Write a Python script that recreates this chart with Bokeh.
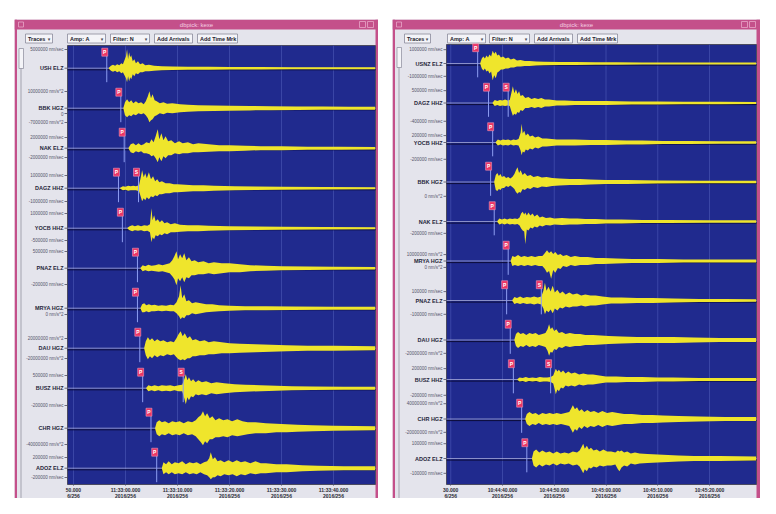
from bokeh.plotting import figure
from bokeh.layouts import row, column
from bokeh.models import Range1d, FixedTicker, Spacer
from bokeh.core.properties import value
from bokeh.embed import file_html
from bokeh.resources import INLINE

# ------------------------------------------------------------------ data
WINDOW_TITLE = "dbpick: kexe"
BUTTON_TEXT = ["Traces", "Amp: A", "Filter: N", "Add Arrivals", "Add Time Mrk"]
BUTTON_MENU = [True, True, True, False, False]

# ---- left window (time in s relative to 11:33:00; envelope points (t, up, down) in px)
L_TICKS = [-10, 0, 10, 20, 30, 40]
L_TICK_LABELS = ["50.000\n6/256", "11:33:00.000\n2016/256", "11:33:10.000\n2016/256",
                 "11:33:20.000\n2016/256", "11:33:30.000\n2016/256", "11:33:40.000\n2016/256"]
L_STATIONS = ["USH ELZ", "BBK HGZ", "NAK ELZ", "DAGZ HHZ", "YOCB HHZ", "PNAZ ELZ",
              "MRYA HGZ", "DAU HGZ", "BUSZ HHZ", "CHR HGZ", "ADOZ ELZ"]
L_P_TIME = [-3.6, -0.9, -0.25, -1.35, -0.6, 2.3, 2.3, 2.75, 3.3, 4.9, 6.0]
L_S_TRACE = [3, 8]
L_S_TIME = [2.5, 11.1]
L_ENV = [
    [(-3.2, .5, .5), (-2.8, 2.5, 2.5), (-2.4, 3.5, 3.5), (-2.0, 2.5, 2.5), (-1.6, 4, 4),
     (-1.2, 3, 3), (-0.8, 5, 5), (-0.5, 4, 4), (-0.2, 8, 7), (0.1, 12, 10), (0.3, 19, 14),
     (0.5, 9, 8), (0.7, 16, 13), (0.9, 11, 9), (1.1, 13, 11), (1.4, 7, 6), (1.7, 9, 8),
     (2.0, 5, 5), (2.4, 7, 6), (2.8, 4, 4), (3.3, 5, 4), (3.8, 3, 3), (4.5, 3.5, 3),
     (5.5, 2.5, 2.5), (7, 2, 2), (9, 1.8, 1.8), (12, 1.5, 1.5), (16, 1.5, 1.5),
     (20, 1.2, 1.2), (26, 1.2, 1.2), (32, 1, 1), (40, 1, 1), (48, 1, 1)],
    [(-0.4, .5, .5), (-0.1, 6, 7), (0.3, 9, 9), (0.7, 6, 7), (1.1, 8, 8), (1.5, 5, 6),
     (2.0, 7, 7), (2.5, 5, 5), (3.0, 6, 6), (3.5, 4, 5), (3.9, 7, 7), (4.3, 12, 10),
     (4.6, 17, 14), (4.9, 10, 12), (5.2, 14, 11), (5.6, 8, 8), (6.0, 7, 7), (6.6, 5, 5),
     (7.3, 6, 6), (8, 4.5, 4.5), (9, 5, 5), (10.5, 4, 4), (12, 3.5, 3.5), (14, 3, 3),
     (17, 2.8, 2.8), (20, 2.5, 2.5), (24, 2.2, 2.2), (28, 2, 2), (33, 1.8, 1.8),
     (38, 1.6, 1.6), (43, 1.5, 1.5), (48, 1.5, 1.5)],
    [(0.6, .5, .5), (1.0, 4, 4), (1.5, 5, 5), (2.0, 3, 3), (2.5, 5, 4), (3.0, 3, 3),
     (3.5, 4, 5), (4.0, 6, 5), (4.6, 5, 6), (5.0, 9, 8), (5.4, 6, 7), (5.8, 12, 10),
     (6.2, 19, 14), (6.5, 9, 9), (6.9, 15, 13), (7.3, 8, 8), (7.7, 12, 10), (8.2, 7, 7),
     (8.8, 8, 7), (9.5, 5, 5), (10.3, 7, 6), (11, 5, 5), (12, 6, 5), (13, 4, 4), (14, 5, 4),
     (16, 4, 3.5), (18, 3, 3), (20, 3, 3), (23, 2.5, 2.5), (26, 2, 2), (30, 2, 2),
     (35, 1.5, 1.5), (41, 1.5, 1.5), (48, 1.2, 1.2)],
    [(-1.0, .5, .5), (-0.5, 2, 2), (0, 1.5, 1.5), (0.5, 2.5, 2.5), (1.0, 2, 2), (1.5, 2.5, 2),
     (2.0, 2, 2), (2.6, 3, 3), (2.9, 10, 8), (3.2, 18, 13), (3.5, 11, 10), (3.8, 15, 12),
     (4.1, 10, 9), (4.5, 16, 11), (4.9, 9, 8), (5.3, 12, 9), (5.7, 7, 7), (6.1, 9, 8),
     (6.5, 6, 6), (7.0, 7, 6), (7.7, 5, 5), (8.5, 5, 5), (9.3, 4, 4), (10, 4, 4),
     (11.5, 3.5, 3.5), (13, 3, 3), (15, 3, 3), (17, 2.5, 2.5), (21, 2, 2), (25, 1.8, 1.8),
     (30, 1.5, 1.5), (38, 1.2, 1.2), (48, 1, 1)],
    [(0.4, .5, .5), (0.8, 2, 2), (1.3, 3, 3), (1.8, 2, 2), (2.4, 3, 2.5), (3.0, 2, 2),
     (3.6, 3, 3), (4.2, 2.5, 2.5), (4.7, 4, 4), (5.0, 20, 14), (5.2, 8, 9), (5.5, 13, 11),
     (5.8, 7, 7), (6.2, 9, 8), (6.6, 6, 6), (7.0, 8, 7), (7.5, 5, 5), (8.0, 6, 6),
     (8.7, 4, 4), (9.5, 5, 4), (10.5, 3.5, 3.5), (12, 3, 3), (14, 3, 3), (16, 2.5, 2.5),
     (20, 2, 2), (25, 1.8, 1.8), (30, 1.5, 1.5), (38, 1.2, 1.2), (48, 1, 1)],
    [(2.9, .5, .5), (3.3, 3, 3), (3.8, 2, 2), (4.4, 3.5, 3), (5.0, 2.5, 2.5), (5.7, 3, 3),
     (6.4, 4, 3.5), (7.1, 3, 3), (7.8, 4, 4), (8.5, 5, 5), (9.0, 8, 8), (9.4, 12, 11),
     (9.8, 17, 17), (10.1, 9, 10), (10.5, 14, 13), (10.9, 10, 9), (11.3, 15, 14),
     (11.7, 8, 9), (12.2, 11, 10), (12.7, 7, 7), (13.3, 8, 7), (14, 6, 6), (15, 7, 6),
     (16, 5, 5), (17, 6, 6), (18.5, 5, 5), (20, 5, 4), (22, 4, 4), (24, 3, 3),
     (27, 2.5, 2.5), (30, 2, 2), (35, 1.8, 1.8), (40, 1.5, 1.5), (48, 1.2, 1.2)],
    [(2.9, .5, .5), (3.2, 4, 4), (3.6, 5, 4), (4.0, 3, 3), (4.5, 4, 4), (5.0, 3, 3),
     (5.6, 3.5, 3), (6.3, 2.5, 2.5), (7.0, 3, 3), (7.8, 2.5, 2.5), (8.6, 3.5, 3), (9.3, 3, 3),
     (9.8, 6, 5), (10.3, 12, 8), (10.6, 23, 11), (10.9, 10, 9), (11.3, 14, 10), (11.7, 7, 7),
     (12.2, 8, 7), (12.8, 5, 5), (13.5, 6, 6), (14.5, 5, 5), (15.5, 4, 4), (16.7, 4, 3.5),
     (18, 3, 3), (20, 2.5, 2.5), (23, 2, 2), (27, 2, 2), (32, 1.8, 1.8), (40, 1.5, 1.5),
     (48, 1.5, 1.5)],
    [(3.6, .5, .5), (3.9, 7, 7), (4.3, 11, 11), (4.7, 8, 8), (5.1, 10, 10), (5.6, 7, 7),
     (6.1, 9, 9), (6.7, 7, 7), (7.3, 8, 8), (8.0, 6, 6), (8.7, 7, 7), (9.3, 6, 6),
     (9.8, 10, 9), (10.2, 14, 11), (10.6, 17, 12), (11.0, 12, 11), (11.4, 15, 12),
     (11.9, 10, 10), (12.4, 12, 10), (12.9, 8, 8), (13.5, 9, 8), (14.3, 7, 7), (15.2, 8, 7),
     (16, 6, 6), (17, 7, 6), (18.5, 6, 5), (20, 5, 5), (22, 4.5, 4.5), (25, 4, 4),
     (28, 3.5, 3.5), (31, 3, 3), (35, 2.5, 2.5), (40, 2.5, 2.5), (48, 2, 2)],
    [(4.0, .5, .5), (4.4, 3, 3), (5.0, 2, 2), (5.6, 3, 3), (6.3, 2, 2), (7.0, 3, 3),
     (7.8, 2.5, 2.5), (8.6, 3, 3), (9.4, 2, 2), (10.2, 3, 3), (10.9, 3.5, 3), (11.3, 9, 10),
     (11.6, 14, 16), (11.9, 8, 9), (12.2, 11, 12), (12.6, 7, 8), (13.0, 9, 9), (13.5, 6, 6),
     (14.0, 8, 7), (14.7, 6, 6), (15.5, 7, 7), (16.5, 5, 5), (17.5, 6, 6), (19, 5, 5),
     (21, 4, 4), (23, 3.5, 3.5), (26, 3, 3), (29, 2.5, 2.5), (32, 2, 2), (36, 1.8, 1.8),
     (42, 1.5, 1.5), (48, 1.5, 1.5)],
    [(5.7, .5, .5), (6.0, 6, 6), (6.5, 8, 8), (7.0, 6, 6), (7.6, 7, 7), (8.3, 5, 5),
     (9.0, 7, 7), (9.7, 6, 6), (10.4, 7, 7), (11.2, 5, 5), (12.0, 7, 7), (12.8, 6, 6),
     (13.5, 8, 8), (14.0, 11, 11), (14.5, 13, 14), (14.9, 17, 17), (15.3, 12, 13),
     (15.7, 15, 15), (16.2, 10, 11), (16.7, 12, 11), (17.3, 8, 9), (18, 10, 9), (18.8, 8, 8),
     (19.6, 9, 9), (20.5, 7, 7), (21.5, 9, 8), (22.5, 7, 7), (23.5, 6, 6), (25, 6, 5),
     (27, 5, 5), (29, 4.5, 4), (31, 4, 4), (33, 3.5, 3.5), (36, 3, 3), (40, 2.5, 2.5),
     (48, 2, 2)],
    [(7.0, .5, .5), (7.3, 6, 6), (7.8, 4, 4), (8.3, 7, 6), (8.9, 4, 4), (9.5, 6, 6),
     (10.2, 5, 5), (10.9, 7, 6), (11.6, 4, 4), (12.3, 6, 6), (13.0, 5, 5), (13.7, 6, 6),
     (14.4, 4, 4), (15.1, 6, 6), (15.7, 7, 7), (16.1, 10, 9), (16.4, 16, 11), (16.8, 9, 9),
     (17.2, 11, 9), (17.7, 7, 7), (18.3, 8, 8), (19, 6, 6), (19.8, 8, 7), (20.6, 6, 6),
     (21.4, 8, 8), (22.2, 6, 6), (23, 7, 7), (24, 5, 5), (25, 7, 6), (26, 5, 5), (27, 5, 5),
     (29, 4, 4), (31, 4, 4), (34, 3, 3), (37, 2.5, 2.5), (42, 2, 2), (48, 2, 2)],
]
L_AMP_TEXT = ["5000000 nm/sec", "10000000 nm/s^2", "0", "-7000000 nm/s^2",
              "2000000 nm/sec", "-2000000 nm/sec", "1000000 nm/sec", "-1000000 nm/sec",
              "1000000 nm/sec", "-500000 nm/sec", "500000 nm/sec", "-200000 nm/sec",
              "0 nm/s^2", "20000000 nm/s^2", "-20000000 nm/s^2", "500000 nm/sec",
              "-200000 nm/sec", "-40000000 nm/s^2", "200000 nm/sec", "-200000 nm/sec"]
L_AMP_TRACE = [0, 1, 1, 1, 2, 2, 3, 3, 4, 4, 5, 5, 6, 7, 7, 8, 8, 9, 10, 10]
L_AMP_DY = [18.7, 16.7, -5.3, -14.3, 10.7, -9.3, 12.7, -13.3, 14.7, -12.3, 16.7, -16.3,
            -6.3, 9.7, -10.3, 12.7, -17.3, -16.3, 10.7, -9.3]

# ---- right window (time in s relative to 10:44:40)
R_TICKS = [-10, 0, 10, 20, 30, 40]
R_TICK_LABELS = ["30.000\n6/256", "10:44:40.000\n2016/256", "10:44:50.000\n2016/256",
                 "10:45:00.000\n2016/256", "10:45:10.000\n2016/256", "10:45:20.000\n2016/256"]
R_STATIONS = ["USNZ ELZ", "DAGZ HHZ", "YOCB HHZ", "BBK HGZ", "NAK ELZ", "MRYA HGZ",
              "PNAZ ELZ", "DAU HGZ", "BUSZ HHZ", "CHR HGZ", "ADOZ ELZ"]
R_P_TIME = [-4.8, -2.7, -1.9, -2.3, -1.6, 1.1, 0.8, 1.5, 2.1, 3.7, 4.7]
R_S_TRACE = [1, 6, 8]
R_S_TIME = [1.1, 7.5, 9.3]
R_ENV = [
    [(-4.3, .5, .5), (-4.0, 5, 5), (-3.7, 7, 7), (-3.4, 5, 5), (-3.1, 8, 8), (-2.8, 6, 7),
     (-2.5, 9, 10), (-2.2, 7, 8), (-1.9, 13, 17), (-1.6, 10, 12), (-1.3, 12, 15), (-1.0, 8, 9),
     (-0.7, 9, 8), (-0.3, 6, 6), (0.1, 7, 6), (0.6, 5, 5), (1.1, 6, 5), (1.6, 4, 4),
     (2.2, 5, 4), (2.8, 3, 3), (3.5, 3.5, 3), (4.3, 2.5, 2.5), (5.2, 2.5, 2.5), (6.5, 2, 2),
     (8, 1.8, 1.8), (11, 1.5, 1.5), (14, 1.5, 1.5), (18, 1.3, 1.3), (22, 1.2, 1.2),
     (27, 1.1, 1.1), (32, 1, 1), (40, 1, 1), (49, 1, 1)],
    [(-1.9, .5, .5), (-1.5, 3, 3), (-1.0, 2, 2), (-0.5, 3, 3), (0, 2.5, 2.5), (0.5, 3.5, 3),
     (1.0, 2.5, 2.5), (1.4, 3, 3), (1.7, 10, 8), (2.0, 17, 13), (2.3, 10, 11), (2.6, 14, 12),
     (2.9, 9, 9), (3.2, 12, 10), (3.5, 7, 7), (3.9, 8, 8), (4.4, 5, 5), (5.0, 6, 5),
     (5.6, 4, 4), (6.2, 5, 5), (6.9, 4, 4), (7.5, 5, 5), (8.2, 3.5, 3.5), (9, 3.5, 3.5),
     (10.5, 2.5, 2.5), (12, 2.5, 2.5), (14, 2, 2), (17, 2, 2), (20, 2, 2), (25, 1.5, 1.5),
     (30, 1.5, 1.5), (35, 1.2, 1.2), (42, 1.2, 1.2), (49, 1, 1)],
    [(-1.3, .5, .5), (-0.9, 3, 3), (-0.4, 2, 2), (0.1, 3, 3), (0.6, 2.5, 2.5), (1.1, 3, 3),
     (1.6, 2, 2), (2.1, 3, 3), (2.6, 2.5, 2.5), (3.1, 3.5, 3), (3.5, 10, 8), (3.7, 19, 13),
     (3.9, 9, 9), (4.2, 12, 10), (4.5, 7, 7), (4.9, 9, 8), (5.3, 6, 6), (5.8, 7, 7),
     (6.3, 5, 5), (6.9, 6, 6), (7.7, 4, 4), (8.5, 4, 4), (9.5, 3.5, 3.5), (10.5, 3, 3),
     (12, 3, 3), (14, 3, 3), (17, 2.5, 2.5), (20, 2.5, 2.5), (24, 2, 2), (27, 2, 2),
     (31, 1.5, 1.5), (36, 1.5, 1.5), (42, 1.2, 1.2), (49, 1.2, 1.2)],
    [(-1.6, .5, .5), (-1.3, 7, 8), (-1.0, 9, 9), (-0.7, 6, 7), (-0.4, 8, 8), (-0.1, 5, 6),
     (0.3, 6, 6), (0.7, 4, 4), (1.1, 5, 5), (1.5, 3.5, 3.5), (1.9, 5, 5), (2.3, 8, 7),
     (2.6, 12, 10), (2.9, 15, 12), (3.2, 9, 10), (3.5, 12, 11), (3.9, 7, 7), (4.3, 9, 8),
     (4.8, 6, 6), (5.4, 7, 7), (6.0, 5, 5), (6.8, 6, 6), (7.6, 4.5, 4.5), (8.5, 5, 5),
     (9.6, 4, 4), (11, 3.5, 3.5), (13, 3, 3), (15, 3, 3), (17, 2.5, 2.5), (20, 2, 2),
     (24, 2, 2), (30, 1.5, 1.5), (38, 1.2, 1.2), (49, 1.2, 1.2)],
    [(-1.0, .5, .5), (-0.6, 3, 3), (-0.1, 2, 2), (0.4, 3, 3), (0.9, 2, 2), (1.4, 3, 3),
     (1.9, 2.5, 2.5), (2.4, 3, 3), (2.9, 2.5, 2.5), (3.3, 4, 4), (3.6, 8, 7), (3.9, 10, 9),
     (4.2, 7, 10), (4.4, 9, 23), (4.7, 6, 8), (5.0, 9, 9), (5.4, 6, 6), (5.8, 8, 7),
     (6.2, 5, 5), (6.7, 7, 6), (7.2, 4, 4), (7.7, 5, 5), (8.4, 3.5, 3.5), (9.2, 4, 4),
     (10, 3, 3), (11.5, 3.5, 3.5), (13, 3, 3), (14.5, 3, 3), (16, 2.5, 2.5), (18, 2.5, 2.5),
     (20, 2, 2), (23, 2, 2), (27, 1.5, 1.5), (32, 1.5, 1.5), (40, 1.2, 1.2), (49, 1.2, 1.2)],
    [(1.6, .5, .5), (1.9, 5, 5), (2.4, 4, 4), (3.0, 6, 5), (3.6, 4, 4), (4.2, 5, 5),
     (4.9, 4, 4), (5.6, 5, 5), (6.3, 4, 4), (7.0, 5, 5), (7.7, 5, 5), (8.2, 8, 8),
     (8.6, 11, 12), (9.0, 8, 10), (9.4, 10, 18), (9.8, 7, 9), (10.2, 9, 12), (10.7, 6, 7),
     (11.2, 7, 8), (11.7, 5, 5), (12.4, 6, 6), (13.2, 4, 4), (14, 5, 5), (15, 4, 4),
     (16.5, 4, 4), (18, 3, 3), (19.5, 3, 3), (22, 2.5, 2.5), (25, 2, 2), (30, 2, 2),
     (35, 1.5, 1.5), (42, 1.5, 1.5), (49, 1.5, 1.5)],
    [(1.9, .5, .5), (2.3, 3.5, 3.5), (2.8, 2.5, 2.5), (3.4, 4, 3.5), (4.0, 2.5, 2.5),
     (4.7, 3.5, 3.5), (5.4, 3, 3), (6.1, 4, 4), (6.8, 3, 3), (7.5, 4, 4), (7.9, 10, 8),
     (8.2, 18, 14), (8.5, 10, 10), (8.9, 14, 12), (9.3, 9, 9), (9.7, 15, 13), (10.1, 8, 8),
     (10.6, 11, 10), (11.1, 7, 7), (11.6, 9, 8), (12.2, 6, 6), (12.9, 8, 7), (13.6, 6, 6),
     (14.4, 7, 6), (15.2, 5, 5), (16, 6, 6), (17, 5, 5), (18, 5, 5), (19.3, 4, 4), (21, 3, 3),
     (23, 3, 3), (26, 2.5, 2.5), (29, 2.5, 2.5), (33, 2, 2), (38, 1.5, 1.5), (43, 1.5, 1.5),
     (49, 1.2, 1.2)],
    [(2.3, .5, .5), (2.6, 6, 6), (3.0, 8, 8), (3.5, 6, 6), (4.0, 7, 7), (4.6, 5, 5),
     (5.2, 7, 7), (5.8, 6, 6), (6.4, 7, 7), (7.0, 5, 5), (7.7, 6, 6), (8.3, 7, 7),
     (8.7, 11, 11), (9.0, 16, 16), (9.3, 11, 12), (9.6, 13, 13), (10.0, 9, 9), (10.4, 11, 10),
     (10.9, 7, 7), (11.5, 8, 8), (12.2, 6, 6), (13, 7, 7), (14, 6, 6), (15, 6, 6), (16, 5, 5),
     (17.5, 5, 5), (19, 4.5, 4.5), (20.5, 4, 4), (23, 3.5, 3.5), (26, 3, 3), (29, 3, 3),
     (33, 3, 3), (37, 2.5, 2.5), (42, 2, 2), (49, 2, 2)],
    [(2.9, .5, .5), (3.3, 2, 2), (3.9, 1.5, 1.5), (4.5, 2.5, 2.5), (5.1, 1.5, 1.5), (5.8, 2, 2),
     (6.5, 1.5, 1.5), (7.2, 2.5, 2.5), (7.9, 2, 2), (8.6, 2, 2), (9.3, 2.5, 2.5), (9.8, 4, 4),
     (10.1, 8, 10), (10.3, 11, 15), (10.6, 8, 10), (10.9, 10, 12), (11.3, 7, 8), (11.7, 9, 9),
     (12.2, 6, 6), (12.7, 8, 7), (13.3, 6, 6), (14, 7, 7), (14.8, 5, 5), (15.6, 6, 6),
     (16.5, 5, 5), (17.5, 5, 5), (18.7, 4, 4), (20, 3, 3), (22, 3, 3), (24, 2.5, 2.5),
     (27, 2.5, 2.5), (30, 2, 2), (33, 2, 2), (38, 1.5, 1.5), (43, 1.5, 1.5), (49, 1.5, 1.5)],
    [(4.4, .5, .5), (4.7, 5, 5), (5.2, 7, 7), (5.8, 5, 5), (6.4, 6, 6), (7.0, 4, 4),
     (7.7, 6, 6), (8.4, 5, 5), (9.1, 6, 6), (9.8, 5, 5), (10.5, 6, 6), (11.3, 5, 5),
     (12.1, 6, 6), (12.9, 7, 7), (13.3, 11, 11), (13.6, 14, 14), (14.0, 10, 10),
     (14.4, 12, 12), (14.8, 8, 8), (15.3, 10, 10), (15.8, 7, 7), (16.4, 9, 9), (17, 7, 7),
     (17.7, 8, 8), (18.5, 6, 6), (19.3, 8, 8), (20.2, 6, 6), (21.2, 7, 7), (22.3, 6, 6),
     (23.5, 5, 5), (25, 5, 5), (27, 4, 4), (29, 4, 4), (31, 3.5, 3.5), (34, 3, 3),
     (38, 2.5, 2.5), (43, 2, 2), (49, 2, 2)],
    [(5.7, .5, .5), (6.0, 7, 7), (6.5, 9, 9), (7.1, 6, 6), (7.7, 8, 8), (8.4, 6, 6),
     (9.1, 7, 7), (9.8, 5, 5), (10.5, 7, 7), (11.2, 5, 5), (12, 6, 6), (12.8, 5, 5),
     (13.6, 7, 7), (14.4, 6, 6), (14.9, 8, 8), (15.3, 12, 12), (15.6, 15, 15), (15.9, 10, 11),
     (16.3, 13, 13), (16.7, 9, 9), (17.1, 11, 10), (17.6, 8, 8), (18.2, 9, 9), (18.8, 7, 7),
     (19.5, 9, 8), (20.2, 7, 7), (21, 7, 7), (21.8, 6, 6), (22.3, 8, 11), (22.6, 7, 13),
     (23.0, 8, 9), (23.5, 6, 7), (24.1, 7, 8), (24.8, 5, 5), (25.6, 6, 6), (26.5, 5, 5),
     (28, 4.5, 4.5), (30, 4, 4), (32, 3.5, 3.5), (34, 3, 3), (37, 2.5, 2.5), (42, 2.5, 2.5),
     (49, 2, 2)],
]
R_AMP_TEXT = ["1000000 nm/sec", "-1000000 nm/sec", "500000 nm/sec", "-400000 nm/sec",
              "200000 nm/sec", "-200000 nm/sec", "0 nm/s^2", "-200000 nm/sec",
              "10000000 nm/s^2", "0 nm/s^2", "100000 nm/sec", "-100000 nm/sec",
              "-20000000 nm/s^2", "200000 nm/sec", "-200000 nm/sec", "40000000 nm/s^2",
              "-20000000 nm/s^2", "100000 nm/sec", "-100000 nm/sec"]
R_AMP_TRACE = [0, 0, 1, 1, 2, 2, 3, 4, 5, 5, 6, 6, 7, 8, 8, 9, 9, 10, 10]
R_AMP_DY = [14, -13, 12.5, -18.5, 7, -17, -14.5, -12, 6.5, -6.5, 9, -14, -13.5, 11, -16,
            15.5, -13.5, 15, -15]

# ------------------------------------------------------------------ styling / geometry
FONT = "Liberation Sans"
BLUE = "#202a8e"
YELLOW = "#efe52c"
PANEL = "#e4e4ec"
PINK = "#c4508a"
FLAG = "#ec3566"
EDGE = "#4a4a60"

# canvas / blue plot area in page pixels, time & trace scale
GEO_L = dict(canvas=(22, 27, 364, 479), area=(75, 53, 383, 492), t0px=133.0, pps=5.2,
             b0px=75.7, upx=1.0, spacing=40,
             buttons=[(33, 60), (75, 113), (118, 157), (162, 200), (205, 245)])
GEO_R = dict(canvas=(400, 27, 368, 479), area=(454, 52, 764, 492), t0px=510.0, pps=5.175,
             b0px=71.0, upx=0.9875, spacing=40,
             buttons=[(412, 438), (455, 493), (497, 537), (542, 580), (585, 625)])


def make_window(g, ticks, tick_labels, stations, p_time, s_trace, s_time, env,
                amp_text, amp_trace, amp_dy):
    cx, cy, cw, ch = g["canvas"]
    ax0, ay0, ax1, ay1 = g["area"]
    pps, upx = g["pps"], g["upx"]

    def X(px):
        return (px - g["t0px"]) / pps

    def Y(py):
        return (g["b0px"] - py) / upx

    sp = g["spacing"]
    base = [-sp * i for i in range(len(stations))]

    # the frame covers the whole window; the time axis is pinned under the trace area
    p = figure(width=cw, height=ch, x_range=Range1d(X(cx), X(cx + cw)),
               y_range=Range1d(Y(cy + ch), Y(cy)), output_backend="svg",
               toolbar_location=None, title=None, y_axis_location=None,
               min_border_left=0, min_border_right=0, min_border_top=0,
               min_border_bottom=0,
               background_fill_color=PANEL, border_fill_color=PANEL,
               outline_line_color=None)
    p.xgrid.visible = False
    p.ygrid.visible = False

    def quad(l, r, t, b, fill, line=None, lw=1.0):
        p.quad(left=[X(l)], right=[X(r)], top=[Y(t)], bottom=[Y(b)],
               fill_color=fill, fill_alpha=1.0 if fill else 0.0,
               line_color=line, line_width=lw)

    def label(px, py, txt, size, color, align="left", style="normal", font=FONT):
        p.text(x=[X(px)], y=[Y(py)], text=[txt], text_align=align, text_baseline="middle",
               text_font=value(font), text_font_size=size, text_font_style=style,
               text_color=color)

    # ---- window chrome
    quad(cx, cx + cw, cy, cy + 10, PINK)
    quad(cx, cx + 2.5, cy, cy + ch, PINK)
    quad(ax1, cx + cw, cy, cy + ch, PINK)
    quad(cx + 4, cx + 9, cy + 2.5, cy + 7.5, None, "#e9a6c8", 0.8)
    quad(cx + cw - 19, cx + cw - 13, cy + 2, cy + 8, None, "#e9a6c8", 0.8)
    quad(cx + cw - 11, cx + cw - 5, cy + 2, cy + 8, None, "#e9a6c8", 0.8)
    label(cx + cw / 2, cy + 5, WINDOW_TITLE, "6px", "#f4cfe2", align="center")
    for (b0, b1), txt, menu in zip(g["buttons"], BUTTON_TEXT, BUTTON_MENU):
        quad(b0, b1, 41.5, 50.5, "#f4f4f8", "#8a8a9a", 0.8)
        label(b0 + 2.5, 46, txt, "5.5px", "#22222c", style="bold")
        if menu:
            label(b1 - 3.5, 46, "▾", "5px", "#44444c", align="center", font="DejaVu Sans")
    # side-panel scrollbar
    quad(cx + 6, cx + 7, ay0 + 3, cy + ch, "#a2a2ae")
    quad(cx + 4.5, cx + 9, ay0 + 3, ay0 + 23, "#f4f4f8", "#8a8a9a", 0.7)

    # ---- blue trace area with time grid
    quad(ax0, ax1, ay0, ay1, BLUE, EDGE, 1)
    gy0, gy1 = Y(ay0), Y(ay1)
    p.segment(x0=ticks, x1=ticks, y0=[gy0] * len(ticks), y1=[gy1] * len(ticks),
              line_color="#3a46a6", line_width=1)

    # ---- time axis
    p.xaxis.fixed_location = gy1
    p.xaxis.ticker = FixedTicker(ticks=ticks)
    p.xaxis.major_label_overrides = {t: s for t, s in zip(ticks, tick_labels)}
    p.xaxis.major_label_text_font = FONT
    p.xaxis.major_label_text_font_size = "5px"
    p.xaxis.major_label_text_line_height = 1.0
    p.xaxis.major_label_text_font_style = "bold"
    p.xaxis.major_label_text_color = "#2c2c36"
    p.xaxis.major_label_standoff = 1
    p.xaxis.major_tick_out = 1
    p.xaxis.major_tick_in = 0
    p.xaxis.minor_tick_out = 0
    p.xaxis.minor_tick_in = 0
    p.xaxis.axis_line_color = None
    p.xaxis.major_tick_line_color = EDGE

    # ---- trace baselines
    xa, xb = X(ax0), X(ax1)
    n = len(base)
    p.segment(x0=[xa] * n, x1=[xb] * n, y0=[b - 1.6 for b in base],
              y1=[b - 1.6 for b in base], line_color="#0c0c3a", line_width=1)
    p.segment(x0=[xa] * n, x1=[xb] * n, y0=base, y1=base,
              line_color="#b4b8e2", line_width=0.8, line_alpha=0.9)

    # ---- waveforms (amplitude envelopes)
    for b, pts in zip(base, env):
        p.varea(x=[q[0] for q in pts], y1=[b + q[1] for q in pts], y2=[b - q[2] for q in pts],
                fill_color=YELLOW, fill_alpha=1.0)

    # ---- picks
    pick_t = list(p_time) + list(s_time)
    pick_b = list(base) + [base[i] for i in s_trace]
    pick_lab = ["P"] * len(p_time) + ["S"] * len(s_time)
    p.segment(x0=pick_t, x1=pick_t, y0=[b + 12 for b in pick_b], y1=[b - 14 for b in pick_b],
              line_color="#8d9df2", line_width=1)
    fx = [t - 2.0 / pps for t in pick_t]
    fy = [b + 16 for b in pick_b]
    p.rect(x=fx, y=fy, width=6, height=8, width_units="screen", height_units="screen",
           fill_color=FLAG, line_color="#ffa8c4", line_width=0.5)
    p.text(x=fx, y=fy, text=pick_lab, text_align="center", text_baseline="middle",
           text_font=value(FONT), text_font_size="5px", text_font_style="bold",
           text_color="white")

    # ---- side panel: station names, amplitude scale labels, tick marks
    amp_y = [base[i] + d for i, d in zip(amp_trace, amp_dy)]
    all_y = list(base) + amp_y
    p.segment(x0=[X(ax0 - 3)] * len(all_y), x1=[xa] * len(all_y), y0=all_y, y1=all_y,
              line_color=EDGE, line_width=0.8)
    p.text(x=[xa] * n, y=base, text=stations, text_align="right", text_baseline="middle",
           text_font=value(FONT), text_font_size="5.5px", text_font_style="bold",
           text_color="#26263a", x_offset=-4)
    p.text(x=[xa] * len(amp_text), y=amp_y, text=amp_text, text_align="right",
           text_baseline="middle", text_font=value(FONT), text_font_size="4.5px",
           text_color="#55556a", x_offset=-4)
    return p


p_left = make_window(GEO_L, L_TICKS, L_TICK_LABELS, L_STATIONS, L_P_TIME, L_S_TRACE,
                     L_S_TIME, L_ENV, L_AMP_TEXT, L_AMP_TRACE, L_AMP_DY)
p_right = make_window(GEO_R, R_TICKS, R_TICK_LABELS, R_STATIONS, R_P_TIME, R_S_TRACE,
                      R_S_TIME, R_ENV, R_AMP_TEXT, R_AMP_TRACE, R_AMP_DY)

layout = column(Spacer(width=760, height=19),
                row(Spacer(width=14, height=479), p_left,
                    Spacer(width=14, height=479), p_right))

open("out.html", "w").write(file_html(layout, INLINE))
